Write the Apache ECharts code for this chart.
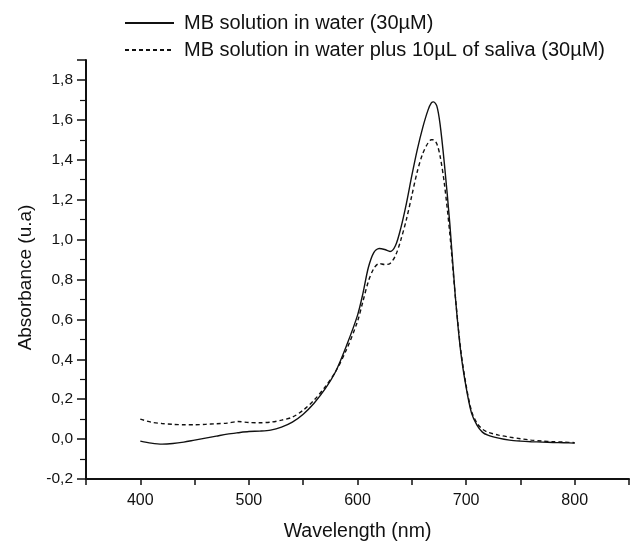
<!DOCTYPE html>
<html>
<head>
<meta charset="utf-8">
<script src="https://cdn.jsdelivr.net/npm/echarts@6/dist/echarts.min.js"></script>
<style>
  html, body { margin: 0; padding: 0; background: #fff; }
  #chart { width: 632px; height: 547px; }
</style>
</head>
<body>
<div id="chart"></div>
<script>
// 흡광 스펙트럼 (MB 용액)
var names = ['MB solution in water (30\u00b5M)', 'MB solution in water plus 10\u00b5L of saliva (30\u00b5M)'];

var wavelength = [400, 410, 420, 430, 440, 450, 460, 470, 480, 490, 500, 510, 520, 530, 540, 550, 560, 570, 580, 590,
  600, 605, 610, 615, 620, 625, 630, 635, 640, 645, 650, 655, 660, 665, 668, 670, 673, 676, 680, 685,
  690, 695, 700, 705, 710, 715, 720, 730, 740, 750, 760, 770, 780, 790, 800];

var waterAbs = [-0.01, -0.02, -0.025, -0.022, -0.015, -0.005, 0.005, 0.015, 0.025, 0.032, 0.038, 0.04, 0.045, 0.06, 0.085, 0.125, 0.18, 0.25, 0.34, 0.47,
  0.62, 0.73, 0.86, 0.935, 0.955, 0.95, 0.94, 0.97, 1.06, 1.18, 1.32, 1.45, 1.56, 1.65, 1.685, 1.69, 1.67, 1.58, 1.38, 1.08,
  0.72, 0.44, 0.26, 0.13, 0.07, 0.035, 0.02, 0.005, -0.005, -0.01, -0.013, -0.015, -0.017, -0.018, -0.02];

var salivaAbs = [0.10, 0.085, 0.078, 0.074, 0.072, 0.072, 0.074, 0.077, 0.08, 0.088, 0.083, 0.082, 0.085, 0.095, 0.11, 0.145, 0.195, 0.26, 0.34, 0.45,
  0.59, 0.69, 0.79, 0.855, 0.88, 0.875, 0.88, 0.92, 1.0, 1.1, 1.22, 1.34, 1.43, 1.485, 1.5, 1.5, 1.48, 1.42, 1.28, 1.03,
  0.72, 0.45, 0.27, 0.14, 0.08, 0.05, 0.035, 0.02, 0.01, 0.002, -0.005, -0.01, -0.013, -0.015, -0.018];

function pairs(xs, ys) {
  return xs.map(function (x, i) { return [x, ys[i]]; });
}

var chart = echarts.init(document.getElementById('chart'));
var font = 'Liberation Sans, Arial, sans-serif';

var option = {
  animation: false,
  backgroundColor: '#fff',
  legend: {
    left: 119,
    top: 8,
    orient: 'vertical',
    itemWidth: 49,
    itemHeight: 14,
    itemGap: 7,
    itemStyle: { opacity: 0 },
    textStyle: { fontFamily: font, fontSize: 20, color: '#111', padding: [0, 0, 0, 5] },
    data: names
  },
  grid: { left: 86, right: 3, top: 60, bottom: 67 },
  xAxis: {
    type: 'value',
    min: 350,
    max: 850,
    interval: 50,
    name: 'Wavelength (nm)',
    nameLocation: 'middle',
    nameGap: 43,
    nameTextStyle: { fontFamily: font, fontSize: 19.5, color: '#111' },
    axisLine: { onZero: false, lineStyle: { color: '#111', width: 2 } },
    axisTick: { length: 6, lineStyle: { color: '#111', width: 1.5 } },
    axisLabel: {
      fontFamily: font, fontSize: 16, color: '#111', margin: 14,
      formatter: function (v) { return (v % 100 === 0 && v <= 800) ? String(v) : ''; }
    },
    splitLine: { show: false }
  },
  yAxis: {
    type: 'value',
    min: -0.2,
    max: 1.9,
    interval: 0.2,
    name: 'Absorbance (u.a)',
    nameLocation: 'middle',
    nameGap: 47,
    nameTextStyle: { fontFamily: font, fontSize: 19, color: '#111', padding: [0, 16, 0, 0] },
    axisLine: { show: true, onZero: false, lineStyle: { color: '#111', width: 2 } },
    axisTick: { show: true, length: 9, lineStyle: { color: '#111', width: 1.5 } },
    minorTick: { show: true, splitNumber: 2, length: 6, lineStyle: { color: '#111', width: 1.2 } },
    axisLabel: {
      fontFamily: font, fontSize: 15.5, color: '#111', margin: 13, showMaxLabel: false,
      formatter: function (v) { return v.toFixed(1).replace('.', ','); }
    },
    splitLine: { show: false },
    minorSplitLine: { show: false }
  },
  series: [
    {
      name: names[0],
      type: 'line',
      smooth: 0.3,
      symbol: 'none',
      lineStyle: { color: '#111', width: 1.4 },
      itemStyle: { color: '#111' },
      data: pairs(wavelength, waterAbs)
    },
    {
      name: names[1],
      type: 'line',
      smooth: 0.3,
      symbol: 'none',
      lineStyle: { color: '#111', width: 1.4, type: [4, 3] },
      itemStyle: { color: '#111' },
      data: pairs(wavelength, salivaAbs)
    }
  ]
};

// 차트 옵션 설정하기
chart.setOption(option);
</script>
</body>
</html>
